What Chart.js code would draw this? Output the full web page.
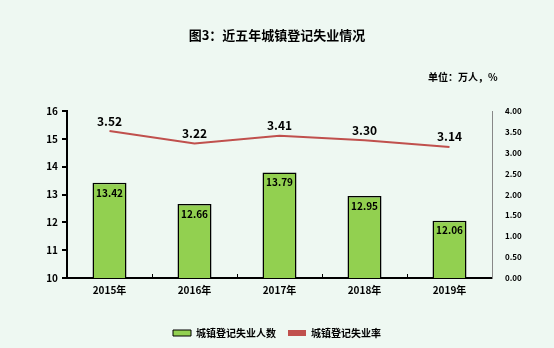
<!DOCTYPE html>
<html>
<head>
<meta charset="utf-8">
<script src="https://cdn.jsdelivr.net/npm/chart.js@4"></script>
<style>
  html, body { margin: 0; padding: 0; background: #eef8f2; }
  #wrap { width: 554px; height: 348px; position: relative; }
</style>
</head>
<body>
<div id="wrap"><canvas id="chart"></canvas></div>
<script>
const years = ["2015年", "2016年", "2017年", "2018年", "2019年"];
const jobless = [13.42, 12.66, 13.79, 12.95, 12.06];
const rate = [3.52, 3.22, 3.41, 3.30, 3.14];
const leftTicks = [10, 11, 12, 13, 14, 15, 16];
const rightTicks = [0, 0.5, 1, 1.5, 2, 2.5, 3, 3.5, 4];

const FONT = '"Noto Sans CJK SC", "DejaVu Sans", sans-serif';

// titles and value labels
const textPlugin = {
  id: "texts",
  afterDatasetsDraw(chart) {
    const ctx = chart.ctx;
    ctx.save();
    ctx.fillStyle = "#000";
    ctx.font = "bold 13px " + FONT;
    ctx.textAlign = "center";
    ctx.textBaseline = "middle";
    ctx.fillText("图3：近五年城镇登记失业情况", 277, 35);
    ctx.font = "bold 10px " + FONT;
    ctx.textAlign = "left";
    ctx.fillText("单位：万人，%", 428, 77);

    const bars = chart.getDatasetMeta(0).data;
    ctx.font = "bold 10px " + FONT;
    ctx.textAlign = "center";
    ctx.textBaseline = "top";
    bars.forEach((b, i) => ctx.fillText(jobless[i].toFixed(2), b.x, b.y + 5));

    const pts = chart.getDatasetMeta(1).data;
    ctx.font = "bold 12px " + FONT;
    ctx.textBaseline = "bottom";
    pts.forEach((p, i) => ctx.fillText(rate[i].toFixed(2), p.x, p.y - 4));
    ctx.restore();
  }
};

new Chart(document.getElementById("chart"), {
  data: {
    labels: years,
    datasets: [
      {
        type: "bar",
        label: "城镇登记失业人数",
        data: jobless,
        backgroundColor: "#92d050",
        borderColor: "#000",
        borderWidth: 1.5,
        borderSkipped: false,
        barPercentage: 0.4,
        categoryPercentage: 1,
        yAxisID: "y",
        order: 2
      },
      {
        type: "line",
        label: "城镇登记失业率",
        data: rate,
        borderColor: "#c0504d",
        backgroundColor: "#c0504d",
        borderWidth: 2,
        pointRadius: 0,
        tension: 0,
        yAxisID: "y1",
        order: 1
      }
    ]
  },
  options: {
    responsive: true,
    maintainAspectRatio: false,
    animation: false,
    layout: { padding: { top: 111, left: 0, right: 0, bottom: 0 } },
    scales: {
      x: {
        afterFit: s => { s.height = 38; },
        grid: { display: true, offset: true, drawOnChartArea: false, tickLength: -4, color: "#000", lineWidth: 1 },
        border: { color: "#000", width: 2 },
        ticks: { color: "#000", font: { family: FONT, size: 10, weight: "bold" }, padding: 10 }
      },
      y: {
        position: "left",
        min: 10, max: 16,
        afterBuildTicks: s => { s.ticks = leftTicks.map(v => ({ value: v })); },
        afterFit: s => { s.width = 67; },
        grid: { display: true, drawOnChartArea: false, tickLength: 5, color: "#000", lineWidth: 2 },
        border: { color: "#000", width: 2 },
        ticks: { color: "#000", font: { family: FONT, size: 10, weight: "bold" }, padding: 4 }
      },
      y1: {
        position: "right",
        min: 0, max: 4,
        afterBuildTicks: s => { s.ticks = rightTicks.map(v => ({ value: v })); },
        afterFit: s => { s.width = 62; },
        grid: { display: false, drawOnChartArea: false },
        border: { color: "#888", width: 1 },
        ticks: { color: "#000", font: { family: FONT, size: 8, weight: "bold" }, padding: 5,
          callback: v => Number(v).toFixed(2) }
      }
    },
    plugins: {
      legend: {
        position: "bottom",
        labels: {
          color: "#000",
          font: { family: FONT, size: 10, weight: "bold" },
          boxWidth: 18, boxHeight: 6, padding: 12,
          generateLabels: chart => chart.data.datasets.map((d, i) => ({
            text: d.label,
            fillStyle: i === 0 ? "#92d050" : "#c0504d",
            strokeStyle: i === 0 ? "#000" : "#c0504d",
            lineWidth: i === 0 ? 1 : 0,
            datasetIndex: i
          }))
        }
      },
      tooltip: { enabled: false }
    }
  },
  plugins: [textPlugin]
});
</script>
</body>
</html>
